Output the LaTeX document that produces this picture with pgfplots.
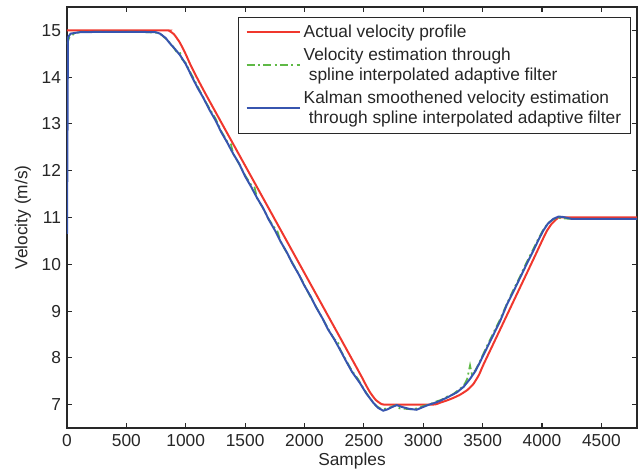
\documentclass[border=0pt]{standalone}
\usepackage{pgfplots}
\pgfplotsset{compat=1.18}
\usepackage{fontspec}
\setmainfont{Liberation Sans}
\definecolor{cred}{RGB}{240,55,45}
\definecolor{cgreen}{RGB}{95,185,70}
\definecolor{cblue}{RGB}{55,85,175}
\definecolor{caxis}{RGB}{40,40,40}
\begin{document}
\begin{tikzpicture}
\useasboundingbox (-50.25pt,-32.25pt) rectangle (432.75pt,321pt);
\begin{axis}[
  at={(0,0)}, anchor=south west,
  width=427.5pt, height=315.75pt, scale only axis,
  xmin=0, xmax=4800, ymin=6.5, ymax=15.5,
  xtick={0,500,...,4500}, ytick={7,8,...,15},
  tick align=inside, major tick length=3.75pt,
  axis line style={caxis, line width=0.8pt},
  every tick/.style={caxis, line width=0.8pt},
  /pgf/number format/assume math mode=true,
  /pgf/number format/set thousands separator={},
  tick label style={font=\fontsize{13}{15}\selectfont, text=black!85},
  xticklabel style={yshift=-1pt},
  yticklabel style={xshift=-1pt},
  label style={font=\fontsize{13}{15}\selectfont, text=black!85},
  xlabel={Samples}, ylabel={Velocity (m/s)},
  xlabel style={at={(axis description cs:0.5,-0.078)}, anchor=center},
  ylabel style={at={(axis description cs:-0.0772,0.5)}, anchor=center},
  legend cell align=left,
  legend style={at={(axis description cs:1,1)}, anchor=north east,
    xshift=-4.5pt, yshift=-7.5pt, draw=caxis, line width=0.8pt,
    font=\fontsize{13}{15}\selectfont, text=black!85,
    cells={align=left}, inner xsep=5pt, inner ysep=3.5pt, row sep=2.5pt,
    nodes={inner xsep=2pt}},
  legend image code/.code={\draw[#1, line width=1.6pt] plot coordinates {(0pt,0.3pt) (20pt,0.3pt) (40pt,0.3pt)};},
]
\addplot[cred, line width=1.5pt, smooth, tension=0.3] coordinates {
(0,15)(820,15)(860,14.99)(900,14.92)(950,14.74)(1000,14.49)(1050,14.21)(1176,13.60)
(1800,10.73)(2450,7.74)(2500,7.50)(2550,7.27)(2600,7.10)(2650,7.01)(2700,7.00)
(3080,7.00)(3141,7.04)(3200,7.09)(3250,7.14)(3309,7.21)(3370,7.31)(3422,7.44)
(3470,7.64)(3506,7.85)(3650,8.62)(3790,9.37)(3930,10.12)(4000,10.50)(4040,10.71)
(4080,10.86)(4124,10.97)(4160,11.0)(4800,11.0)};
\addlegendentry{Actual velocity profile}
\addplot[cgreen, line width=1.3pt, dash pattern=on 6pt off 2.5pt on 1.5pt off 2.5pt] coordinates {
(0,14.70)(20,14.85)(60,14.93)(120,14.97)(300,14.97)(600,14.97)(760,14.95)(800,14.90)
(840,14.80)(880,14.70)(920,14.55)(950,14.54)(970,14.38)(1000,14.30)(1050,14.05)
(1100,13.80)(1150,13.55)(1200,13.33)(1250,13.12)(1300,12.84)(1350,12.62)(1380,12.57)
(1400,12.36)(1450,12.14)(1500,11.90)(1550,11.70)(1580,11.64)(1600,11.42)(1650,11.20)
(1700,10.96)(1750,10.77)(1770,10.72)(1800,10.48)(1850,10.25)(1900,10.02)(1950,9.80)
(2000,9.55)(2050,9.30)(2100,9.08)(2150,8.85)(2200,8.62)(2250,8.40)(2280,8.35)
(2300,8.18)(2350,7.95)(2400,7.72)(2450,7.55)(2500,7.33)(2550,7.14)(2600,6.98)
(2650,6.90)(2700,6.92)(2750,6.97)(2780,6.99)(2800,6.92)(2850,6.91)(2900,6.90)
(2950,6.92)(3000,6.97)(3050,7.00)(3100,7.06)(3150,7.10)(3200,7.17)(3250,7.22)
(3300,7.32)(3340,7.40)(3370,7.55)(3394,7.84)(3410,7.65)(3440,7.74)(3478,7.93)
(3530,8.22)(3590,8.53)(3650,8.84)(3703,9.15)(3760,9.46)(3815,9.74)(3870,10.04)
(3927,10.33)(3970,10.55)(4011,10.74)(4050,10.88)(4095,10.96)(4140,10.99)(4180,10.98)
(4250,10.97)(4800,10.97)};
\addlegendentry{Velocity estimation through\\\hspace{0.3em}spline interpolated adaptive filter}
\addplot[cblue, line width=1.5pt] coordinates {
(0,10.65)(8,14.85)(30,14.93)(100,14.96)(300,14.97)(600,14.97)(750,14.96)(783,14.93)
(830,14.84)(867,14.72)(910,14.60)(952,14.47)(1000,14.28)(1050,14.02)(1100,13.77)
(1150,13.55)(1200,13.30)(1250,13.08)(1300,12.82)(1350,12.60)(1400,12.36)(1450,12.15)
(1500,11.88)(1550,11.66)(1600,11.42)(1650,11.21)(1700,10.95)(1750,10.73)(1800,10.48)
(1850,10.26)(1900,10.01)(1950,9.79)(2000,9.54)(2050,9.32)(2100,9.07)(2150,8.85)
(2200,8.60)(2250,8.40)(2300,8.17)(2350,7.93)(2400,7.70)(2467,7.46)(2520,7.24)
(2579,7.04)(2620,6.93)(2663,6.87)(2700,6.90)(2740,6.95)(2776,6.99)(2820,6.95)
(2880,6.91)(2944,6.89)(3000,6.95)(3050,7.00)(3100,7.04)(3141,7.08)(3200,7.15)
(3282,7.26)(3340,7.38)(3394,7.55)(3440,7.72)(3478,7.91)(3530,8.18)(3590,8.49)
(3650,8.80)(3703,9.13)(3760,9.42)(3815,9.71)(3870,10.00)(3927,10.29)(3970,10.52)
(4011,10.72)(4050,10.87)(4095,10.97)(4140,11.02)(4180,11.01)(4250,10.97)(4800,10.97)};
\addlegendentry{Kalman smoothened velocity estimation\\\hspace{0.3em}through spline interpolated adaptive filter}
\end{axis}
\end{tikzpicture}
\end{document}
